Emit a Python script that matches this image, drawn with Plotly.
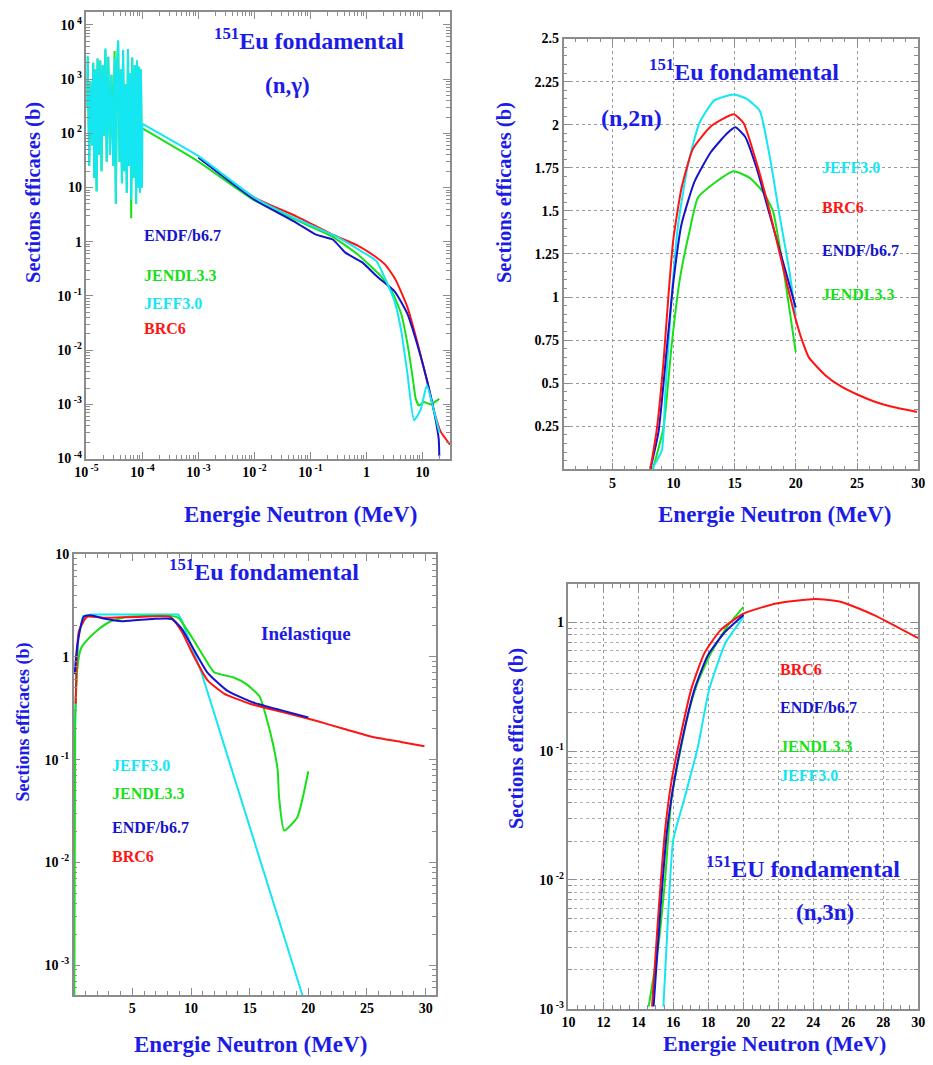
import plotly.graph_objects as go

RED = "#ff1414"
GREEN = "#18e018"
CYAN = "#14e6f2"
BLUE = "#1414c8"
TXT_BLUE = "#1c1ce6"
FONT = "Liberation Serif"

# ---------------- (n,gamma) : resonance region + smooth region ----------------
E_res = [1.00e-5, 1.05e-5, 1.12e-5, 1.18e-5, 1.26e-5, 1.32e-5, 1.38e-5, 1.45e-5,
         1.52e-5, 1.58e-5, 1.66e-5, 1.76e-5, 1.86e-5, 1.95e-5, 2.05e-5, 2.18e-5,
         2.30e-5, 2.45e-5, 2.63e-5, 2.80e-5, 3.01e-5, 3.18e-5, 3.35e-5, 3.52e-5,
         3.68e-5, 3.90e-5, 4.10e-5, 4.30e-5, 4.51e-5, 4.75e-5, 5.01e-5, 5.25e-5,
         5.51e-5, 5.80e-5, 6.05e-5, 6.30e-5, 6.56e-5, 6.93e-5, 7.30e-5, 7.71e-5,
         8.00e-5, 8.36e-5, 8.70e-5, 9.06e-5, 9.40e-5, 9.82e-5]
jeff_res = [300, 2700, 25, 900, 60, 2000, 15, 1500,
            8.5, 2400, 40, 2200, 20, 1800, 90, 3700,
            30, 2600, 40, 1200, 25, 2500, 5, 1800,
            5200, 30, 1500, 12, 3500, 20, 800, 8,
            3600, 25, 1300, 6, 2500, 15, 1800, 5,
            2200, 10, 1700, 8, 1500, 10]
jendl_res = [300, 2600, 25, 900, 60, 2000, 15, 1500,
             8.5, 2400, 40, 2200, 20, 1800, 90, 3500,
             30, 2600, 40, 1200, 25, 3300, 5, 1800,
             5000, 30, 1500, 12, 3400, 20, 800, 8,
             3600, 25, 1300, 2.7, 2500, 15, 1800, 5,
             2200, 10, 1700, 8, 1500, 10]

E_ng_jeff = [1.0e-4, 1.0e-3, 1.0e-2, 0.056, 0.25, 0.83, 1.51, 2.09, 3.16, 4.17,
             5.37, 7.08, 9.33, 12.0, 15.8, 19.5, 20.0]
s_ng_jeff = [150, 38, 6.5, 2.63, 1.35, 0.66, 0.44, 0.224, 0.081, 0.023,
             0.0038, 0.00051, 0.00081, 0.00224, 0.00081, 0.00034, 0.00030]

E_ng_jendl = [1.0e-4, 1.0e-3, 1.0e-2, 0.056, 0.25, 0.71, 1.86, 2.82, 4.17, 5.37,
              6.61, 7.59, 8.71, 10.5, 14.1, 20.0]
s_ng_jendl = [123, 30, 5.8, 2.5, 1.23, 0.575, 0.224, 0.123, 0.047, 0.0135,
              0.0034, 0.00126, 0.00095, 0.0011, 0.0010, 0.00126]

E_ng_endf = [1.0e-3, 1.0e-2, 0.056, 0.126, 0.25, 0.42, 0.83, 1.58, 3.16, 5.37,
             7.94, 12.0, 15.8, 19.5, 20.0]
s_ng_endf = [36, 6.0, 2.24, 1.35, 1.1, 0.63, 0.42, 0.224, 0.123, 0.047,
             0.0135, 0.0028, 0.00081, 0.00023, 0.00011]

E_ng_brc = [1.0e-3, 1.0e-2, 0.056, 0.25, 0.7, 1.41, 2.2, 3.3, 5.37, 7.94, 12.0,
            15.8, 20.9, 28.8, 31.0]
s_ng_brc = [36, 6.5, 2.95, 1.35, 0.85, 0.54, 0.37, 0.2, 0.063, 0.0151, 0.0028,
            0.00081, 0.00032, 0.00020, 0.00018]

# ---------------- (n,2n) ----------------
E_2n_brc = [8.1, 8.64, 9.17, 9.57, 9.97, 10.64, 11.58, 13.04, 14.92, 15.72, 16.78,
            17.85, 18.92, 19.99, 20.5, 21.06, 22.4, 23.73, 25.06, 26.4, 27.7, 29.9]
s_2n_brc = [0.0, 0.24, 0.62, 1.0, 1.33, 1.63, 1.86, 1.99, 2.06, 2.01, 1.78,
            1.5, 1.18, 0.87, 0.75, 0.65, 0.547, 0.48, 0.433, 0.394, 0.366, 0.333]
E_2n_jeff = [8.2, 9.04, 9.31, 9.84, 10.37, 11.18, 12.11, 13.31, 14.92, 15.98,
             17.05, 17.85, 18.65, 19.45, 19.99]
s_2n_jeff = [0.0, 0.11, 0.43, 1.0, 1.42, 1.77, 2.01, 2.14, 2.175, 2.15,
             2.08, 1.82, 1.48, 1.16, 0.89]
E_2n_endf = [8.1, 8.77, 9.44, 9.97, 10.64, 11.71, 13.04, 14.38, 15.05, 15.85,
             16.78, 17.85, 18.92, 19.99]
s_2n_endf = [0.0, 0.22, 0.70, 1.08, 1.42, 1.67, 1.84, 1.95, 1.985, 1.93,
             1.75, 1.48, 1.21, 0.94]
E_2n_jendl = [8.3, 9.17, 9.84, 10.5, 11.31, 11.98, 13.31, 14.92, 16.25, 17.32,
              18.12, 18.92, 19.99]
s_2n_jendl = [0.0, 0.24, 0.72, 1.10, 1.385, 1.575, 1.66, 1.73, 1.69, 1.61,
              1.50, 1.19, 0.68]

# ---------------- inelastic ----------------
E_in_endf = [0.08, 0.31, 0.86, 1.42, 2.53, 4.19, 6.69, 8.36, 9.19, 10.31, 11.42,
             13.08, 15.31, 17.81, 20.0]
s_in_endf = [0.68, 1.31, 2.46, 2.55, 2.37, 2.23, 2.34, 2.34, 1.9, 1.14, 0.70,
             0.47, 0.36, 0.30, 0.257]
E_in_brc = [0.17, 0.44, 1.14, 2.53, 5.3, 8.22, 9.19, 10.31, 11.42, 12.81, 15.03,
            17.81, 20.58, 23.0, 25.5, 28.0, 29.9]
s_in_brc = [0.35, 1.78, 2.45, 2.40, 2.45, 2.45, 1.78, 0.98, 0.59, 0.44, 0.35,
            0.29, 0.24, 0.20, 0.166, 0.148, 0.135]
E_in_jeff = [0.02, 0.1, 0.4, 0.8, 1.5, 5.0, 8.92, 9.19, 10.86, 19.47, 20.0]
s_in_jeff = [0.02, 0.25, 1.6, 2.5, 2.59, 2.59, 2.59, 2.29, 0.72, 0.00052, 0.00034]
E_in_jendl = [0.05, 0.12, 0.3, 0.6, 1.0, 1.97, 3.08, 4.47, 8.08, 8.92, 10.03, 11.14,
              11.97, 13.64, 14.75, 15.86, 16.42, 16.97, 17.39, 17.5, 17.94, 19.06, 20.0]
s_in_jendl = [0.0004, 0.19, 0.75, 1.2, 1.4, 1.8, 2.2, 2.45, 2.51, 2.40, 1.58, 0.98,
              0.71, 0.63, 0.54, 0.41, 0.257, 0.145, 0.079, 0.044, 0.0204, 0.0275, 0.077]

# ---------------- (n,3n) ----------------
E_3n_brc = [14.78, 15.15, 15.53, 15.9, 16.46, 17.02, 17.77, 18.7, 20.01, 21.88,
            24.12, 25.61, 27.48, 30.0]
s_3n_brc = [0.00104, 0.0056, 0.0245, 0.059, 0.141, 0.302, 0.575, 0.871, 1.17,
            1.40, 1.52, 1.44, 1.14, 0.755]
E_3n_endf = [14.87, 15.25, 15.62, 16.09, 16.65, 17.21, 17.96, 18.89, 20.01]
s_3n_endf = [0.00104, 0.0056, 0.0229, 0.063, 0.151, 0.302, 0.55, 0.824, 1.14]
E_3n_jendl = [14.59, 15.15, 15.53, 15.9, 16.83, 17.39, 18.14, 19.08, 20.01]
s_3n_jendl = [0.00104, 0.00316, 0.0102, 0.0437, 0.19, 0.342, 0.575, 0.927, 1.32]
E_3n_jeff = [15.43, 15.71, 15.99, 16.65, 17.39, 18.05, 18.98, 20.01]
s_3n_jeff = [0.00104, 0.0056, 0.0204, 0.0437, 0.106, 0.302, 0.692, 1.10]

fig = go.Figure()


def line(x, y, color, ax):
    fig.add_trace(go.Scatter(x=x, y=y, mode="lines",
                             line=dict(color=color, width=2, shape="spline", smoothing=0.5),
                             xaxis="x" + ax, yaxis="y" + ax, showlegend=False,
                             hoverinfo="skip"))


def jagged(x, y, color, ax):
    fig.add_trace(go.Scatter(x=x, y=y, mode="lines", line=dict(color=color, width=2),
                             xaxis="x" + ax, yaxis="y" + ax, showlegend=False,
                             hoverinfo="skip"))


# panel 1 : (n,gamma)
jagged(E_res, jendl_res, GREEN, "")
line(E_ng_jendl, s_ng_jendl, GREEN, "")
line(E_ng_brc, s_ng_brc, RED, "")
line(E_ng_endf, s_ng_endf, BLUE, "")
jagged(E_res + E_ng_jeff[:1], jeff_res + s_ng_jeff[:1], CYAN, "")
line(E_ng_jeff, s_ng_jeff, CYAN, "")
# panel 2 : (n,2n)
line(E_2n_jendl, s_2n_jendl, GREEN, "2")
line(E_2n_jeff, s_2n_jeff, CYAN, "2")
line(E_2n_endf, s_2n_endf, BLUE, "2")
line(E_2n_brc, s_2n_brc, RED, "2")
# panel 3 : inelastic
jagged(E_in_jeff, s_in_jeff, CYAN, "3")
line(E_in_jendl, s_in_jendl, GREEN, "3")
line(E_in_brc, s_in_brc, RED, "3")
line(E_in_endf, s_in_endf, BLUE, "3")
# panel 4 : (n,3n)
line(E_3n_jeff, s_3n_jeff, CYAN, "4")
line(E_3n_jendl, s_3n_jendl, GREEN, "4")
line(E_3n_brc, s_3n_brc, RED, "4")
line(E_3n_endf, s_3n_endf, BLUE, "4")


def pow_label(d):
    if d == 0:
        return "1"
    if d == 1:
        return "10"
    return "10<sup> %d</sup>" % d


def log_minor(d0, d1):
    return [k * 10.0 ** d for d in range(d0, d1 + 1) for k in range(2, 10)]


tickfont = dict(family=FONT, size=14, color="black", weight="bold")
frame = dict(showline=True, linecolor="#8c8c8c", linewidth=1.5, mirror="allticks",
             ticks="inside", tickcolor="#8c8c8c", ticklen=7, tickwidth=1,
             zeroline=False, tickfont=tickfont, showgrid=False)


def paper(x0, x1, y0, y1):
    return [x0 / 933, x1 / 933], [1 - y1 / 1065, 1 - y0 / 1065]


d1x, d1y = paper(76, 447, 5, 458)
d2x, d2y = paper(563, 925, 32, 469)
d3x, d3y = paper(63, 433, 555, 1002)
d4x, d4y = paper(568, 925, 585, 1016)

minor_log = dict(ticks="inside", ticklen=4, tickcolor="#8c8c8c", showgrid=False)

fig.update_layout(
    width=933, height=1065, margin=dict(l=0, r=0, t=0, b=0),
    paper_bgcolor="white", plot_bgcolor="white",
    xaxis=dict(frame, type="log", domain=d1x, anchor="y", range=[-5, 1.49],
               tickmode="array", tickvals=[10.0 ** d for d in range(-5, 2)],
               ticktext=[pow_label(d) for d in range(-5, 2)],
               minor=dict(minor_log, tickmode="array", tickvals=log_minor(-5, 1))),
    yaxis=dict(frame, type="log", domain=d1y, anchor="x", range=[-4, 4.24],
               tickmode="array", tickvals=[10.0 ** d for d in range(-4, 5)],
               ticktext=[pow_label(d) for d in range(-4, 5)],
               minor=dict(minor_log, tickmode="array", tickvals=log_minor(-4, 4))),
    xaxis2=dict(frame, domain=d2x, anchor="y2", range=[1, 30],
                tickmode="array", tickvals=[5, 10, 15, 20, 25, 30],
                showgrid=True, gridcolor="#9a9a9a", griddash="dot", gridwidth=1,
                minor=dict(ticks="inside", ticklen=4, tickcolor="#8c8c8c", dtick=1)),
    yaxis2=dict(frame, domain=d2y, anchor="x2", range=[0, 2.5],
                tickmode="array", tickvals=[0.25, 0.5, 0.75, 1, 1.25, 1.5, 1.75, 2, 2.25, 2.5],
                ticktext=["0.25", "0.5", "0.75", "1", "1.25", "1.5", "1.75", "2", "2.25", "2.5"],
                showgrid=True, gridcolor="#9a9a9a", griddash="dot", gridwidth=1,
                minor=dict(ticks="inside", ticklen=4, tickcolor="#8c8c8c", dtick=0.05)),
    xaxis3=dict(frame, domain=d3x, anchor="y3", range=[0, 30.9],
                tickmode="array", tickvals=[5, 10, 15, 20, 25, 30],
                minor=dict(ticks="inside", ticklen=4, tickcolor="#8c8c8c", dtick=1)),
    yaxis3=dict(frame, type="log", domain=d3y, anchor="x3", range=[-3.29, 1],
                tickmode="array", tickvals=[10.0 ** d for d in range(-3, 2)],
                ticktext=[pow_label(d) for d in range(-3, 2)],
                minor=dict(minor_log, tickmode="array", tickvals=log_minor(-4, 0))),
    xaxis4=dict(frame, domain=d4x, anchor="y4", range=[10, 30],
                tickmode="array", tickvals=list(range(10, 31, 2)),
                showgrid=True, gridcolor="#9a9a9a", griddash="dot", gridwidth=1,
                minor=dict(ticks="inside", ticklen=4, tickcolor="#8c8c8c", dtick=0.5)),
    yaxis4=dict(frame, type="log", domain=d4y, anchor="x4", range=[-3, 0.3],
                tickmode="array", tickvals=[10.0 ** d for d in range(-3, 1)],
                ticktext=[pow_label(d) for d in range(-3, 1)],
                showgrid=True, gridcolor="#9a9a9a", griddash="dot", gridwidth=1,
                minor=dict(ticks="inside", ticklen=4, tickcolor="#8c8c8c",
                           tickmode="array", tickvals=log_minor(-3, 0),
                           showgrid=True, gridcolor="#b0b0b0", griddash="dot")),
)

ann = []


def text(x, y, s, color, size, xanchor="center", angle=0):
    ann.append(dict(x=x / 933, y=1 - y / 1065, xref="paper", yref="paper", text=s,
                    showarrow=False, xanchor=xanchor, yanchor="middle", textangle=angle,
                    font=dict(family=FONT, size=size, color=color, weight="bold")))


YT = "Sections efficaces (b)"
XT = "Energie Neutron (MeV)"
# axis titles
text(22, 188, YT, TXT_BLUE, 20.5, angle=-90)
text(294, 515, XT, TXT_BLUE, 23)
text(503, 188, YT, TXT_BLUE, 20.5, angle=-90)
text(778, 515, XT, TXT_BLUE, 23)
text(12, 725, YT, TXT_BLUE, 18, angle=-90)
text(243, 1052, XT, TXT_BLUE, 23)
text(515, 742, YT, TXT_BLUE, 20.5, angle=-90)
text(778, 1051, XT, TXT_BLUE, 22)

# panel headings
text(303, 32, "<sup>151</sup>Eu fondamental", TXT_BLUE, 24)
text(281, 80, "(n,γ)", TXT_BLUE, 23)
text(747, 64, "<sup>151</sup>Eu fondamental", TXT_BLUE, 24)
text(632, 113, "(n,2n)", TXT_BLUE, 24)
text(257, 571, "<sup>151</sup>Eu fondamental", TXT_BLUE, 24)
text(300, 635, "Inélastique", TXT_BLUE, 19)
text(807, 872, "<sup>151</sup>EU fondamental", TXT_BLUE, 24)
text(830, 918, "(n,3n)", TXT_BLUE, 23)

# library labels
for x, y, s, c in [(133, 232, "ENDF/b6.7", BLUE), (133, 272, "JENDL3.3", GREEN),
                   (133, 301, "JEFF3.0", CYAN), (133, 326, "BRC6", RED),
                   (825, 163, "JEFF3.0", CYAN), (825, 203, "BRC6", RED),
                   (825, 247, "ENDF/b6.7", BLUE), (825, 292, "JENDL3.3", GREEN),
                   (100, 769, "JEFF3.0", CYAN), (100, 798, "JENDL3.3", GREEN),
                   (100, 832, "ENDF/b6.7", BLUE), (100, 862, "BRC6", RED),
                   (782, 672, "BRC6", RED), (782, 710, "ENDF/b6.7", BLUE),
                   (782, 750, "JENDL3.3", GREEN), (782, 779, "JEFF3.0", CYAN)]:
    text(x, y, s, c, 16, xanchor="left")

fig.update_layout(annotations=ann)
fig.write_html("out.html")
